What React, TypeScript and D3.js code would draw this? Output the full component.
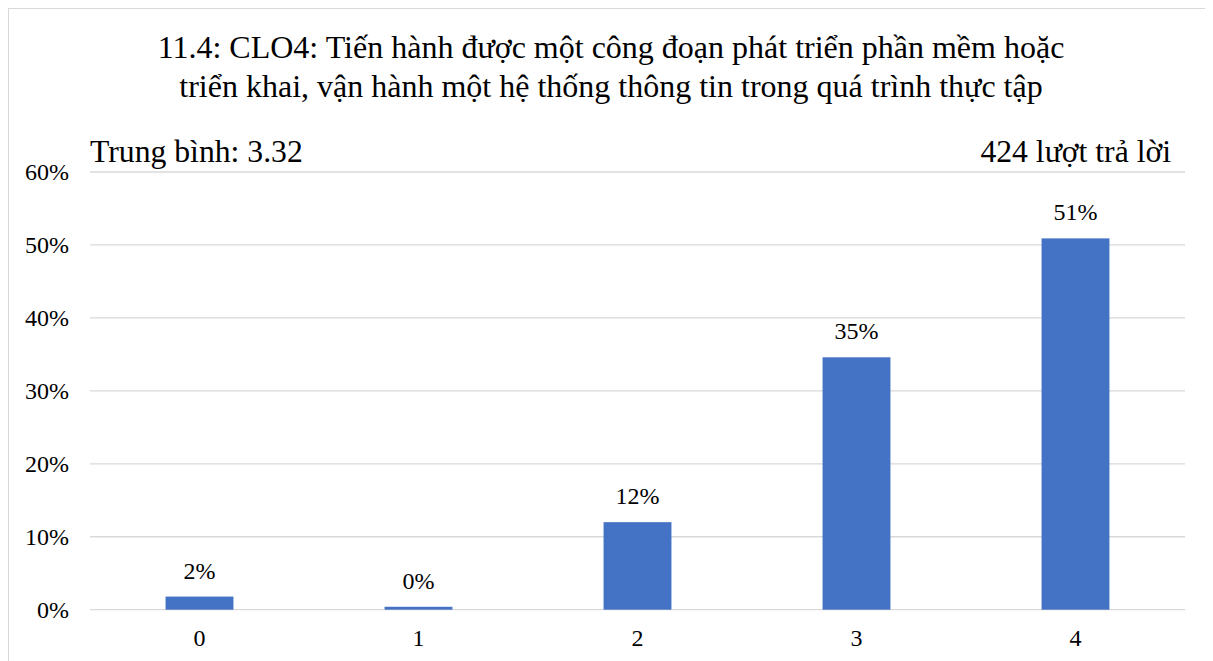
import React from "react";
import * as d3 from "d3";

const categories = ["0", "1", "2", "3", "4"];
const values = [1.8, 0.4, 12.0, 34.6, 50.9];
const yTicks = [0, 10, 20, 30, 40, 50, 60];
const titleLines = [
  "11.4: CLO4: Tiến hành được một công đoạn phát triển phần mềm hoặc",
  "triển khai, vận hành một hệ thống thông tin trong quá trình thực tập",
];
const meanText = "Trung bình: 3.32";
const countText = "424 lượt trả lời";

const FONT = "Liberation Serif";
const txt = (size: number): React.CSSProperties => ({ fontFamily: FONT, fontSize: size + "px" });

export default function App() {
  const W = 1205;
  const H = 653;
  const left = 90;
  const right = 1185;
  const top = 172;
  const bottom = 609.7;

  const x = d3
    .scaleBand<string>()
    .domain(categories)
    .range([left, right])
    .paddingInner(0.69)
    .paddingOuter(0.345);
  const y = d3.scaleLinear().domain([0, 60]).range([bottom, top]);

  return (
    <svg width={W} height={H} style={{ display: "block" }}>
      <g transform="translate(-8,-8)">
        <rect x={8.5} y={8.5} width={1400} height={1000} fill="#fff" stroke="#D9D9D9" strokeWidth={1} />
        {titleLines.map((t, i) => (
          <text key={i} x={611} y={58 + i * 39} textAnchor="middle" style={txt(32)} fill="#000">
            {t}
          </text>
        ))}
        <text x={90} y={162} style={txt(31.7)} fill="#000">
          {meanText}
        </text>
        <text x={1171} y={162} style={txt(31.7)} textAnchor="end" fill="#000">
          {countText}
        </text>
        {yTicks.map((t) => (
          <g key={t}>
            <line x1={left} x2={right} y1={y(t)} y2={y(t)} stroke="#D9D9D9" strokeWidth={1.3} />
            <text x={69} y={y(t) + 8} textAnchor="end" style={txt(24)} fill="#000">
              {`${t}%`}
            </text>
          </g>
        ))}
        {categories.map((c, i) => (
          <g key={c}>
            <rect
              x={x(c)}
              y={y(values[i])}
              width={x.bandwidth()}
              height={bottom - y(values[i])}
              fill="#4472C4"
            />
            <text
              x={(x(c) as number) + x.bandwidth() / 2}
              y={y(values[i]) - 18}
              textAnchor="middle"
              style={txt(24)}
              fill="#000"
            >
              {`${Math.round(values[i])}%`}
            </text>
            <text
              x={(x(c) as number) + x.bandwidth() / 2}
              y={bottom + 36}
              textAnchor="middle"
              style={txt(24)}
              fill="#000"
            >
              {c}
            </text>
          </g>
        ))}
      </g>
    </svg>
  );
}
